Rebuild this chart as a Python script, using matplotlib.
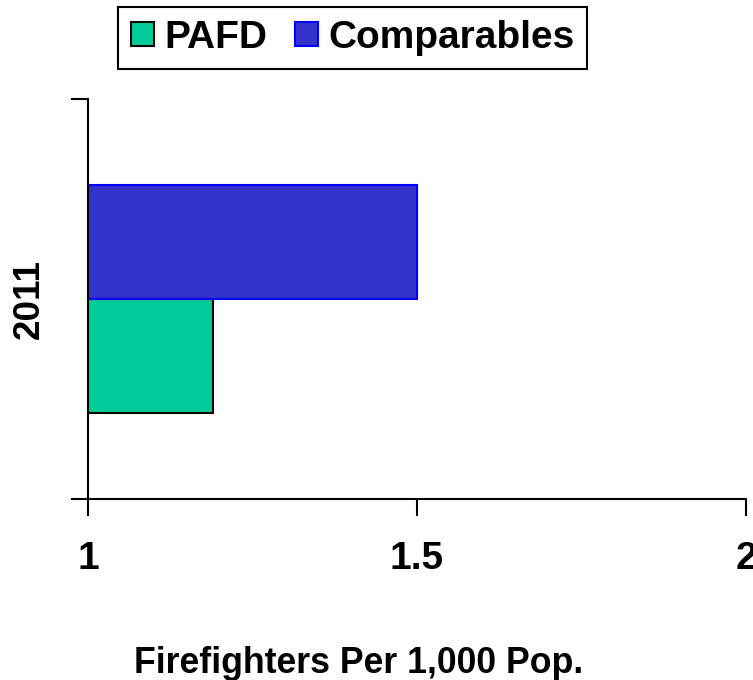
import matplotlib
matplotlib.use("Agg")
import matplotlib.pyplot as plt
from matplotlib.patches import Patch

plt.rcParams["font.family"] = ["Liberation Sans", "DejaVu Sans"]
plt.rcParams["font.weight"] = "bold"

# data
category = "2011"
series_names = ["PAFD", "Comparables"]
series_values = [1.19, 1.5]
face_colors = ["#00CC99", "#3333CC"]
edge_colors = ["#000000", "#0000FF"]
x_ticks = [1, 1.5, 2]
x_tick_labels = ["1", "1.5", "2"]

fig = plt.figure(figsize=(7.53, 6.80), dpi=100)
ax = fig.add_axes([88 / 753, 181 / 680, 658 / 753, 400 / 680])

bar_h = 0.285
offsets = [-bar_h / 2, bar_h / 2]
for name, val, off, fc, ec in zip(series_names, series_values, offsets, face_colors, edge_colors):
    ax.barh(0 + off, val - 1, left=1, height=bar_h, color=fc, edgecolor=ec, linewidth=1.5, label=name)

ax.set_xlim(1, 2)
ax.set_ylim(-0.5, 0.5)
ax.spines["top"].set_visible(False)
ax.spines["right"].set_visible(False)
ax.spines["left"].set_linewidth(1.5)
ax.spines["bottom"].set_linewidth(1.5)

ax.set_xticks(x_ticks)
ax.set_xticklabels(x_tick_labels, fontsize=28, fontweight="bold")
ax.tick_params(axis="x", direction="out", length=12, width=1.5, pad=18)

ax.set_yticks([0])
ax.set_yticklabels([category], rotation=90, va="center", fontsize=26.5, fontweight="bold")
ax.tick_params(axis="y", which="major", length=0, pad=30)
ax.set_yticks([-0.5, 0.5], minor=True)
ax.tick_params(axis="y", which="minor", direction="out", length=12, width=1.5)

ax.set_xlabel("Firefighters Per 1,000 Pop.", fontsize=25.7, fontweight="bold", labelpad=50)
ax.xaxis.label.set_x((359 - 88) / 658)

handles = [Patch(facecolor=fc, edgecolor=ec, linewidth=1.5) for fc, ec in zip(face_colors, edge_colors)]
leg = fig.legend(handles, series_names, loc="upper left", bbox_to_anchor=(118 / 753, 1 - 7 / 680),
                 ncol=2, fontsize=28, frameon=True, fancybox=False, framealpha=1,
                 edgecolor="black", handlelength=0.6, handleheight=0.6, handletextpad=0.26,
                 columnspacing=0.7, borderpad=0.33, borderaxespad=0)
leg.get_frame().set_linewidth(1.5)
for t in leg.get_texts():
    t.set_fontweight("bold")

fig.savefig("out.png", dpi=100)
